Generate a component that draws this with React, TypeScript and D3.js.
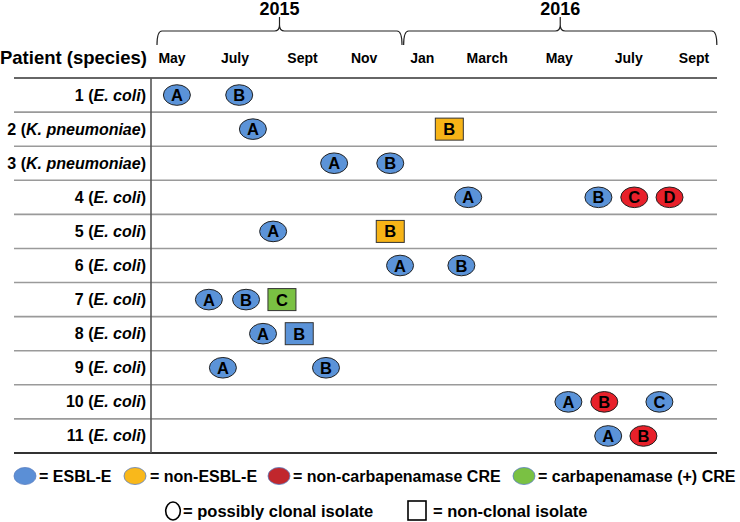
import React from "react";
import * as d3 from "d3";

// ---- data ----
const patientIds = ["1", "2", "3", "4", "5", "6", "7", "8", "9", "10", "11"];
const patientSpecies = [
  "E. coli", "K. pneumoniae", "K. pneumoniae", "E. coli", "E. coli", "E. coli",
  "E. coli", "E. coli", "E. coli", "E. coli", "E. coli",
];

// month index: 0 = May 2015 ... 16 = Sept 2016
const monthLabels = ["May", "July", "Sept", "Nov", "Jan", "March", "May", "July", "Sept"];
const monthLabelPos = [0, 1.93, 4.0, 5.89, 7.67, 9.66, 11.87, 14.0, 16.0];

const yearLabels = ["2015", "2016"];
const yearStart = [-0.46, 7.1];
const yearEnd = [7.05, 16.7];

// isolates
const isoPatient = ["1","1","2","2","3","3","4","4","4","4","5","5","6","6","7","7","7","8","8","9","9","10","10","10","11","11"];
const isoLetter  = ["A","B","A","B","A","B","A","B","C","D","A","B","A","B","A","B","C","A","B","A","B","A","B","C","A","B"];
const isoMonth   = [0.15,2.06,2.48,8.5,4.97,6.69,9.08,13.07,14.17,15.25,3.1,6.69,6.99,8.87,1.13,2.27,3.37,2.79,3.9,1.56,4.72,12.15,13.25,14.94,13.37,14.45];
const isoType    = ["esbl","esbl","esbl","non","esbl","esbl","esbl","esbl","cre","cre","esbl","non","esbl","esbl","esbl","esbl","carb","esbl","esbl","esbl","esbl","esbl","cre","esbl","esbl","cre"];
const isoClonal  = [true,true,true,false,true,true,true,true,true,true,true,false,true,true,true,true,false,true,false,true,true,true,true,true,true,true];

const typeKeys = ["esbl", "non", "cre", "carb"];
const typeColors = ["#5b93d8", "#f7b417", "#e8202a", "#7ac143"];
const legendColors = ["#5b8fd6", "#f9b81b", "#c1272d", "#7ac143"];
const legendLabels = ["= ESBL-E", "= non-ESBL-E", "= non-carbapenamase CRE", "= carbapenamase (+) CRE"];
const shapeLabels = ["= possibly clonal isolate", "= non-clonal isolate"];

const FONT = "'Liberation Sans', Arial, Helvetica, sans-serif";

export default function App() {
  const W = 740, H = 522;
  const x = d3.scaleLinear().domain([0, 16]).range([172, 694]);
  const y = d3.scaleBand<string>().domain(patientIds).range([78, 453]);
  const color = d3.scaleOrdinal<string, string>().domain(typeKeys).range(typeColors);

  const lineX0 = 14, lineX1 = 717, vX = 151;

  const bracketPath = (a: number, b: number) => {
    const x0 = x(a), x1 = x(b), xm = (x0 + x1) / 2;
    const p = d3.path();
    const yb = 31, yt = 17, ye = 45, r = 5;
    p.moveTo(x0, ye);
    p.quadraticCurveTo(x0, yb, x0 + r, yb);
    p.lineTo(xm - r, yb);
    p.quadraticCurveTo(xm, yb, xm, yb - 6);
    p.lineTo(xm, yt);
    p.moveTo(xm, yb - 6);
    p.quadraticCurveTo(xm, yb, xm + r, yb);
    p.lineTo(x1 - r, yb);
    p.quadraticCurveTo(x1, yb, x1, ye);
    return p.toString();
  };

  const bw = y.bandwidth();
  const legendEllX = [25, 135, 279, 524];
  const legendTextX = [39, 150, 293, 538];

  return (
    <svg width={W} height={H} style={{ position: "absolute", left: 0, top: 0, background: "#fff" }} fontFamily={FONT}>
      {/* year brackets */}
      {yearLabels.map((yl, i) => (
        <g key={yl}>
          <path d={bracketPath(yearStart[i], yearEnd[i])} fill="none" stroke="#222" strokeWidth={1.2} />
          <text x={(x(yearStart[i]) + x(yearEnd[i])) / 2} y={14.5} textAnchor="middle" fontSize={18} fontWeight="bold">{yl}</text>
        </g>
      ))}
      {/* header */}
      <text x={147} y={64} textAnchor="end" fontSize={18.5} fontWeight="bold">Patient (species)</text>
      {monthLabels.map((m, i) => (
        <text key={i} x={x(monthLabelPos[i])} y={63} textAnchor="middle" fontSize={14} fontWeight="bold">{m}</text>
      ))}
      {/* row separators */}
      {patientIds.slice(1).map((p) => (
        <line key={p} x1={lineX0} x2={lineX1} y1={y(p)!} y2={y(p)!} stroke="#9a9a9a" strokeWidth={1.6} />
      ))}
      <line x1={lineX0} x2={lineX1} y1={78} y2={78} stroke="#333" strokeWidth={1.6} />
      <line x1={lineX0} x2={lineX1} y1={453} y2={453} stroke="#333" strokeWidth={1.8} />
      <line x1={vX} x2={vX} y1={78} y2={453} stroke="#555" strokeWidth={1.6} />
      {/* row labels */}
      {patientIds.map((p, i) => (
        <text key={p} x={146} y={y(p)! + bw / 2 + 5.5} textAnchor="end" fontSize={16} fontWeight="bold">
          {p} (<tspan fontStyle="italic">{patientSpecies[i]}</tspan>)
        </text>
      ))}
      {/* isolates */}
      {isoPatient.map((p, i) => {
        const cx = x(isoMonth[i]);
        const cy = y(p)! + bw / 2;
        const fill = color(isoType[i]);
        return (
          <g key={i}>
            {isoClonal[i] ? (
              <ellipse cx={cx} cy={cy} rx={13.5} ry={10.3} fill={fill} stroke="#222" strokeWidth={1} />
            ) : (
              <rect x={cx - 14} y={cy - 11} width={28} height={22} fill={fill} stroke="#333" strokeWidth={1} />
            )}
            <text x={cx} y={cy + 6} textAnchor="middle" fontSize={16.5} fontWeight="bold" fill="#000">{isoLetter[i]}</text>
          </g>
        );
      })}
      {/* legend row 1 */}
      {legendLabels.map((l, i) => (
        <g key={l}>
          <ellipse cx={legendEllX[i]} cy={476} rx={11} ry={8.5} fill={legendColors[i]} stroke="#5a7fc2" strokeWidth={0.8} />
          <text x={legendTextX[i]} y={482} fontSize={16} fontWeight="bold">{l}</text>
        </g>
      ))}
      {/* legend row 2 */}
      <ellipse cx={173} cy={511} rx={7.3} ry={9} fill="none" stroke="#000" strokeWidth={1.6} />
      <text x={183} y={517} fontSize={16.5} fontWeight="bold">{shapeLabels[0]}</text>
      <rect x={408} y={501} width={18} height={19} fill="none" stroke="#000" strokeWidth={1.6} />
      <text x={433} y={517} fontSize={16.5} fontWeight="bold">{shapeLabels[1]}</text>
    </svg>
  );
}
